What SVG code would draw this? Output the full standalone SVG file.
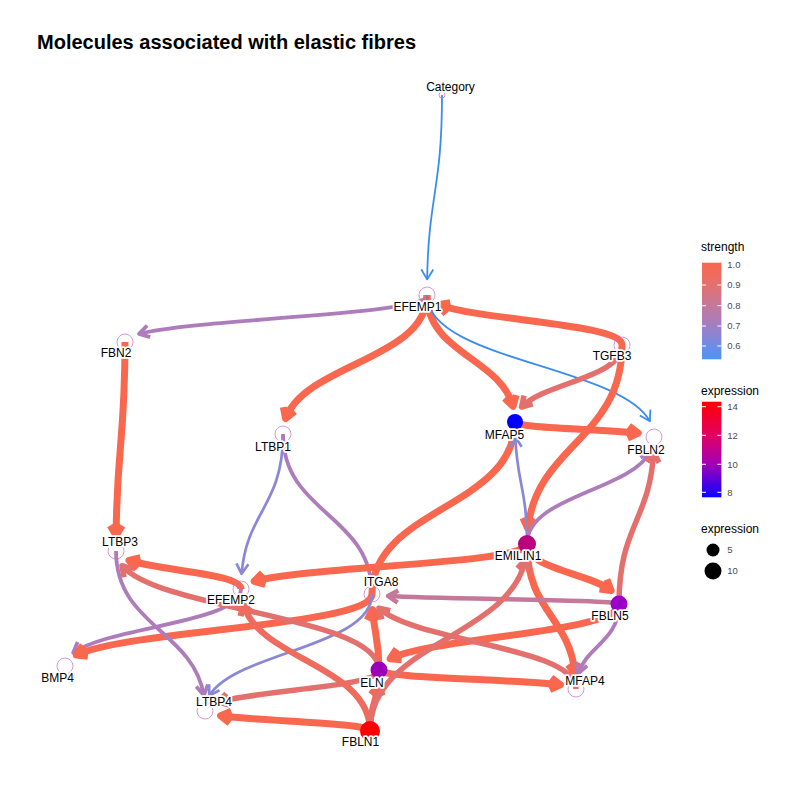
<svg xmlns="http://www.w3.org/2000/svg" width="800" height="800" viewBox="0 0 800 800">
<style>
text{font-family:"Liberation Sans",Arial,sans-serif}
.title{font-size:20px;font-weight:bold;fill:#000}
.lbl{font-size:12px;fill:#000;text-anchor:middle;stroke:#fff;stroke-width:3.6;stroke-linejoin:round;paint-order:stroke fill}
.hollow{fill:none;stroke:#C46BC4;stroke-width:0.7}
.e{fill:none;stroke-linecap:butt}
.e55{stroke:#3A8DF0;stroke-width:1.8}
.e65{stroke:#8A88D6;stroke-width:2.7}
.e72{stroke:#AE7CBA;stroke-width:3.8}
.e80{stroke:#C4789A;stroke-width:4.5}
.e90{stroke:#E4706E;stroke-width:5.5}
.e95{stroke:#EE6B5E;stroke-width:6.2}
.e100{stroke:#F9674F;stroke-width:7}
.ah{fill:none;stroke-linejoin:round}
.leg{font-size:12px;fill:#000}
.tick{font-size:9.5px;fill:#4D4D4D}
.tk{stroke:#fff;stroke-width:1}
</style>
<defs>
<marker id="m55" markerUnits="userSpaceOnUse" orient="auto" viewBox="-15 -15 30 30" markerWidth="30" markerHeight="30" refX="0" refY="0"><path class="ah" d="M-10,-6 L0,0 L-10,6" stroke="#3A8DF0" stroke-width="1.8"/></marker>
<marker id="m65" markerUnits="userSpaceOnUse" orient="auto" viewBox="-15 -15 30 30" markerWidth="30" markerHeight="30" refX="0" refY="0"><path class="ah" d="M-10,-6 L0,0 L-10,6" stroke="#8A88D6" stroke-width="2.7"/></marker>
<marker id="m72" markerUnits="userSpaceOnUse" orient="auto" viewBox="-15 -15 30 30" markerWidth="30" markerHeight="30" refX="0" refY="0"><path class="ah" d="M-10,-6 L0,0 L-10,6" stroke="#AE7CBA" stroke-width="3.8"/></marker>
<marker id="m80" markerUnits="userSpaceOnUse" orient="auto" viewBox="-15 -15 30 30" markerWidth="30" markerHeight="30" refX="0" refY="0"><path class="ah" d="M-10,-6 L0,0 L-10,6" stroke="#C4789A" stroke-width="4.5"/></marker>
<marker id="m90" markerUnits="userSpaceOnUse" orient="auto" viewBox="-15 -15 30 30" markerWidth="30" markerHeight="30" refX="0" refY="0"><path class="ah" d="M-10,-6 L0,0 L-10,6" stroke="#E4706E" stroke-width="5.5"/></marker>
<marker id="m95" markerUnits="userSpaceOnUse" orient="auto" viewBox="-15 -15 30 30" markerWidth="30" markerHeight="30" refX="0" refY="0"><path class="ah" d="M-10,-6 L0,0 L-10,6" stroke="#EE6B5E" stroke-width="6.2"/></marker>
<marker id="m100" markerUnits="userSpaceOnUse" orient="auto" viewBox="-15 -15 30 30" markerWidth="30" markerHeight="30" refX="0" refY="0"><path class="ah" d="M-10,-6 L0,0 L-10,6" stroke="#F9674F" stroke-width="7"/></marker>
<linearGradient id="gStrength" x1="0" y1="0" x2="0" y2="1">
<stop offset="0" stop-color="#FA664C"/>
<stop offset="0.228" stop-color="#E4706E"/>
<stop offset="0.44" stop-color="#C4789A"/>
<stop offset="0.651" stop-color="#A27EC0"/>
<stop offset="0.862" stop-color="#6F8CE6"/>
<stop offset="1" stop-color="#4A95F8"/>
</linearGradient>
<linearGradient id="gExpr" x1="0" y1="0" x2="0" y2="1">
<stop offset="0" stop-color="#FF0000"/>
<stop offset="0.351" stop-color="#E20064"/>
<stop offset="0.649" stop-color="#A300B5"/>
<stop offset="0.948" stop-color="#2400F6"/>
<stop offset="1" stop-color="#0000FF"/>
</linearGradient>
</defs>
<rect x="0" y="0" width="800" height="800" fill="#fff"/>
<text class="title" x="37" y="49">Molecules associated with elastic fibres</text>

<g id="edges">
<path class="e e55" marker-end="url(#m55)" d="M442,95 C442,189.5 428.6,194.7 427.1,279.4"/>
<path class="e e72" marker-end="url(#m72)" d="M427,295 C427,315.4 198.4,318.1 139,333.9"/>
<path class="e e100" marker-end="url(#m100)" d="M622,345 C622,323.8 481.1,320.5 438.8,304.7"/>
<path class="e e100" marker-end="url(#m100)" d="M427,295 C427,358.9 305.1,364.1 285.6,418.6"/>
<path class="e e100" marker-end="url(#m100)" d="M427,295 C427,352.8 499.9,358 513,406.3"/>
<path class="e e55" marker-end="url(#m55)" d="M427,295 C427,360.3 619.2,365.5 649.9,421.3"/>
<path class="e e90" marker-end="url(#m90)" d="M622,345 C622,377.7 544.7,382.6 521.5,407"/>
<path class="e e100" marker-end="url(#m100)" d="M622,345 C622,439 537.1,444.2 527.8,528.5"/>
<path class="e e100" marker-end="url(#m100)" d="M515,422 C515,427.9 601.8,429.1 638.2,433.1"/>
<path class="e e100" marker-end="url(#m100)" d="M125,342 C125,441.1 116.9,446.2 116.1,535.5"/>
<path class="e e65" marker-end="url(#m65)" d="M283,434 C283,506.1 246.7,511.1 241.6,573.8"/>
<path class="e e72" d="M283,434 C283,514 372,514 372,594"/>
<path class="e e100" d="M372,594 C372,508 515,508 515,422"/>
<path class="e e65" marker-end="url(#m65)" d="M527,544 C527,488.5 517.1,483.5 515.3,437.1"/>
<path class="e e72" marker-end="url(#m72)" d="M527,544 C527,495.9 629.8,491.1 650.4,451.6"/>
<path class="e e100" marker-end="url(#m100)" d="M527,544 C527,563.6 310.5,566.2 254.2,581.3"/>
<path class="e e100" marker-end="url(#m100)" d="M527,544 C527,568.6 588.8,573.1 611.1,590.4"/>
<path class="e e100" marker-end="url(#m100)" d="M527,544 C527,611.1 568.9,616.1 575.2,673.9"/>
<path class="e e90" marker-end="url(#m90)" d="M619,604 C619,525.9 649.6,520.9 653.6,452.3"/>
<path class="e e80" marker-end="url(#m80)" d="M619,604 C619,599.8 442.7,599.1 388,596"/>
<path class="e e100" marker-end="url(#m100)" d="M619,604 C619,632.7 437.3,636.5 390.1,658.7"/>
<path class="e e72" marker-end="url(#m72)" d="M619,604 C619,640.6 587.2,645.7 578.3,673.4"/>
<path class="e e100" marker-end="url(#m100)" d="M241,589 C241,573.8 161,570.7 129,560.4"/>
<path class="e e72" marker-end="url(#m72)" d="M241,589 C241,622.5 107.8,626.9 73.2,652.8"/>
<path class="e e100" marker-end="url(#m100)" d="M372,594 C372,625.9 131.6,629.5 76.3,654.9"/>
<path class="e e72" marker-end="url(#m72)" d="M116,551 C116,625.4 193,630.6 203.8,695.3"/>
<path class="e e65" marker-end="url(#m65)" d="M372,594 C372,646.9 235.2,652 209.2,695.8"/>
<path class="e e100" marker-end="url(#m100)" d="M379,670 C379,638.1 374.1,632.9 372.5,609.6"/>
<path class="e e100" marker-end="url(#m100)" d="M379,670 C379,677.9 513.7,679.2 560.4,684.8"/>
<path class="e e90" marker-end="url(#m90)" d="M379,670 C379,687 259.2,689.9 218.4,702.1"/>
<path class="e e90" marker-end="url(#m90)" d="M379,670 C379,615.9 161.2,611 122,565.7"/>
<path class="e e95" marker-end="url(#m95)" d="M370,731 C370,665.7 260.8,660.5 243.3,604.8"/>
<path class="e e100" marker-end="url(#m100)" d="M370,731 C370,722.9 261.7,721.4 220.6,715.8"/>
<path class="e e95" marker-end="url(#m95)" d="M370,731 C370,706.6 375.8,701.7 378.1,685.1"/>
<path class="e e90" marker-end="url(#m90)" d="M370,731 C370,643.1 508.8,637.9 525.4,559.9"/>
<path class="e e90" marker-end="url(#m90)" d="M576,689 C576,646.7 414.4,642.1 378.9,608.1"/>
</g>

<g id="node-Category"><circle class="hollow" cx="442" cy="95" r="3"/><text class="lbl" x="450.5" y="90.8">Category</text></g>
<g id="node-EFEMP1"><circle class="hollow" cx="427" cy="295" r="8"/><text class="lbl" x="417.5" y="311.3">EFEMP1</text></g>
<g id="node-FBN2"><circle class="hollow" cx="125" cy="342" r="8"/><text class="lbl" x="116" y="357.3">FBN2</text></g>
<g id="node-TGFB3"><circle class="hollow" cx="622" cy="345" r="8"/><text class="lbl" x="612" y="360.3">TGFB3</text></g>
<g id="node-LTBP1"><circle class="hollow" cx="283" cy="434" r="8"/><text class="lbl" x="273" y="450.8">LTBP1</text></g>
<g id="node-MFAP5"><circle cx="515" cy="422" r="8" fill="#0000FF"/><text class="lbl" x="504.5" y="438.8">MFAP5</text></g>
<g id="node-FBLN2"><circle class="hollow" cx="654" cy="437" r="8"/><text class="lbl" x="646" y="453.8">FBLN2</text></g>
<g id="node-LTBP3"><circle class="hollow" cx="116" cy="551" r="8"/><text class="lbl" x="120" y="545.8">LTBP3</text></g>
<g id="node-EMILIN1"><circle cx="527" cy="544" r="9" fill="#BA007E"/><text class="lbl" x="518" y="560.3">EMILIN1</text></g>
<g id="node-EFEMP2"><circle class="hollow" cx="241" cy="589" r="8"/><text class="lbl" x="231" y="604.3">EFEMP2</text></g>
<g id="node-ITGA8"><circle class="hollow" cx="372" cy="594" r="8"/><text class="lbl" x="381" y="586.3">ITGA8</text></g>
<g id="node-FBLN5"><circle cx="619" cy="604" r="8.5" fill="#9A00C8"/><text class="lbl" x="610" y="620.3">FBLN5</text></g>
<g id="node-BMP4"><circle class="hollow" cx="65" cy="666" r="8"/><text class="lbl" x="57.5" y="681.8">BMP4</text></g>
<g id="node-ELN"><circle cx="379" cy="670" r="8.5" fill="#9900B8"/><text class="lbl" x="372" y="686.8">ELN</text></g>
<g id="node-MFAP4"><circle class="hollow" cx="576" cy="689" r="8"/><text class="lbl" x="585" y="685.3">MFAP4</text></g>
<g id="node-LTBP4"><circle class="hollow" cx="205" cy="711" r="8"/><text class="lbl" x="214" y="706.3">LTBP4</text></g>
<g id="node-FBLN1"><circle cx="370" cy="731" r="10" fill="#FF0000"/><text class="lbl" x="360.5" y="746.3">FBLN1</text></g>

<g id="legend">
<text class="leg" x="701" y="250.5">strength</text>
<rect x="702" y="262.7" width="19.4" height="96.6" fill="url(#gStrength)"/>
<g class="tk">
<line x1="702" y1="285" x2="706" y2="285"/><line x1="717.4" y1="285" x2="721.4" y2="285"/>
<line x1="702" y1="305.7" x2="706" y2="305.7"/><line x1="717.4" y1="305.7" x2="721.4" y2="305.7"/>
<line x1="702" y1="326" x2="706" y2="326"/><line x1="717.4" y1="326" x2="721.4" y2="326"/>
<line x1="702" y1="346" x2="706" y2="346"/><line x1="717.4" y1="346" x2="721.4" y2="346"/>
</g>
<text class="tick" x="727.3" y="267.7">1.0</text>
<text class="tick" x="727.3" y="288.4">0.9</text>
<text class="tick" x="727.3" y="309.1">0.8</text>
<text class="tick" x="727.3" y="329.4">0.7</text>
<text class="tick" x="727.3" y="349.4">0.6</text>

<text class="leg" x="701" y="395">expression</text>
<rect x="702" y="401.7" width="19.4" height="95.6" fill="url(#gExpr)"/>
<g class="tk">
<line x1="702" y1="406.7" x2="706" y2="406.7"/><line x1="717.4" y1="406.7" x2="721.4" y2="406.7"/>
<line x1="702" y1="435.3" x2="706" y2="435.3"/><line x1="717.4" y1="435.3" x2="721.4" y2="435.3"/>
<line x1="702" y1="464.3" x2="706" y2="464.3"/><line x1="717.4" y1="464.3" x2="721.4" y2="464.3"/>
<line x1="702" y1="492.3" x2="706" y2="492.3"/><line x1="717.4" y1="492.3" x2="721.4" y2="492.3"/>
</g>
<text class="tick" x="727.3" y="410.1">14</text>
<text class="tick" x="727.3" y="438.7">12</text>
<text class="tick" x="727.3" y="467.7">10</text>
<text class="tick" x="727.3" y="495.7">8</text>

<text class="leg" x="701" y="533">expression</text>
<circle cx="713" cy="550" r="6.5" fill="#000"/>
<circle cx="713" cy="571" r="8.5" fill="#000"/>
<text class="tick" x="727.3" y="553.4">5</text>
<text class="tick" x="727.3" y="574.4">10</text>
</g>
</svg>
